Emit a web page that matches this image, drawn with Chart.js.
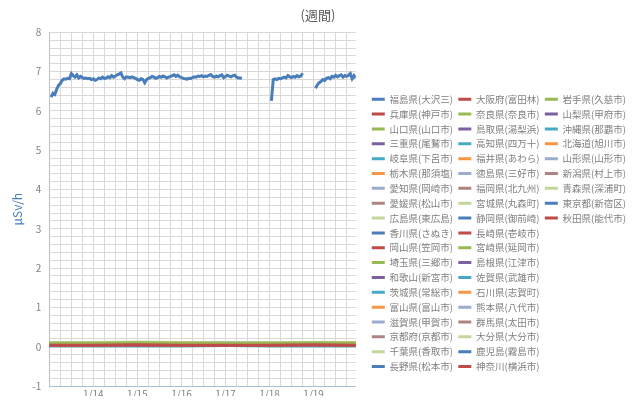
<!DOCTYPE html>
<html lang="ja">
<head>
<meta charset="utf-8">
<title>空間線量率 (週間)</title>
<script src="https://cdn.jsdelivr.net/npm/chart.js@4.4.1/dist/chart.umd.min.js"></script>
<style>
  body { margin: 0; background: #fff; }
</style>
</head>
<body>
<canvas id="myChart" width="640" height="400"></canvas>
<script>
// legend order: three columns, top to bottom
const stations = [
    '福島県(大沢三)', '兵庫県(神戸市)', '山口県(山口市)', '三重県(尾鷲市)', '岐阜県(下呂市)',
    '栃木県(那須塩)', '愛知県(岡崎市)', '愛媛県(松山市)', '広島県(東広島)', '香川県(さぬき)',
    '岡山県(笠岡市)', '埼玉県(三郷市)', '和歌山(新宮市)', '茨城県(常総市)', '富山県(富山市)',
    '滋賀県(甲賀市)', '京都府(京都市)', '千葉県(香取市)', '長野県(松本市)',
    '大阪府(富田林)', '奈良県(奈良市)', '鳥取県(湯梨浜)', '高知県(四万十)', '福井県(あわら)',
    '徳島県(三好市)', '福岡県(北九州)', '宮城県(丸森町)', '静岡県(御前崎)', '長崎県(壱岐市)',
    '宮崎県(延岡市)', '島根県(江津市)', '佐賀県(武雄市)', '石川県(志賀町)', '熊本県(八代市)',
    '群馬県(太田市)', '大分県(大分市)', '鹿児島(霧島市)', '神奈川(横浜市)',
    '岩手県(久慈市)', '山梨県(甲府市)', '沖縄県(那覇市)', '北海道(旭川市)', '山形県(山形市)',
    '新潟県(村上市)', '青森県(深浦町)', '東京都(新宿区)', '秋田県(能代市)'
];

const dayLabels = ['1/14', '1/15', '1/16', '1/17', '1/18', '1/19'];

// 福島県(大沢三), hourly from 1/13 0:00 to 1/19 23:00 (null = no data)
const fukushima = [
    null, 6.35, 6.45, 6.42, 6.55, 6.65, 6.70, 6.78, 6.82, 6.81, 6.83, 6.82, 6.95, 6.90, 6.86, 6.92, 6.84, 6.88, 6.85, 6.83, 6.84, 6.82, 6.83, 6.80,
    6.82, 6.78, 6.80, 6.84, 6.82, 6.86, 6.83, 6.84, 6.87, 6.85, 6.90, 6.86, 6.89, 6.92, 6.94, 6.97, 6.86, 6.82, 6.87, 6.86, 6.85, 6.87, 6.85, 6.83,
    6.80, 6.78, 6.82, 6.80, 6.72, 6.80, 6.83, 6.85, 6.88, 6.86, 6.83, 6.85, 6.88, 6.86, 6.89, 6.87, 6.84, 6.86, 6.88, 6.90, 6.92, 6.88, 6.91, 6.87,
    6.85, 6.83, 6.82, 6.81, 6.83, 6.82, 6.85, 6.87, 6.86, 6.89, 6.88, 6.90, 6.87, 6.89, 6.88, 6.91, 6.93, 6.88, 6.86, 6.89, 6.87, 6.90, 6.92, 6.85,
    6.88, 6.91, 6.89, 6.87, 6.90, 6.91, 6.86, 6.84, 6.84, 6.83, null, null, null, null, null, null, null, null, null, null, null, null, null, null,
    null, 6.26, 6.80, 6.82, 6.80, 6.83, 6.82, 6.84, 6.86, 6.84, 6.90, 6.87, 6.85, 6.88, 6.86, 6.90, 6.87, 6.89, 6.96, null, null, null, null, null,
    null, 6.58, 6.66, 6.72, 6.75, 6.80, 6.78, 6.83, 6.85, 6.82, 6.88, 6.86, 6.91, 6.87, 6.90, 6.92, 6.86, 6.90, 6.88, 6.91, 6.95, 6.82, 6.90, 6.84
];

// the other stations, read once a day (hour of the week)
const dailyHours = [0, 24, 48, 72, 96, 120, 144, 167];
const otherLevels = [
    [0.04, 0.04, 0.05, 0.04, 0.04, 0.04, 0.05, 0.04],
    [0.09, 0.09, 0.10, 0.09, 0.09, 0.09, 0.10, 0.09],
    [0.05, 0.05, 0.05, 0.06, 0.05, 0.05, 0.05, 0.05],
    [0.07, 0.07, 0.08, 0.07, 0.07, 0.08, 0.07, 0.07],
    [0.08, 0.08, 0.08, 0.09, 0.08, 0.08, 0.08, 0.09],
    [0.05, 0.05, 0.05, 0.05, 0.06, 0.05, 0.05, 0.05],
    [0.05, 0.05, 0.06, 0.05, 0.05, 0.05, 0.05, 0.06],
    [0.10, 0.10, 0.11, 0.10, 0.10, 0.10, 0.11, 0.10],
    [0.06, 0.06, 0.06, 0.07, 0.06, 0.06, 0.06, 0.06],
    [0.04, 0.04, 0.04, 0.04, 0.05, 0.04, 0.04, 0.04],
    [0.07, 0.07, 0.06, 0.07, 0.07, 0.07, 0.07, 0.07],
    [0.05, 0.05, 0.05, 0.05, 0.05, 0.06, 0.05, 0.05],
    [0.09, 0.09, 0.09, 0.09, 0.10, 0.09, 0.09, 0.09],
    [0.06, 0.06, 0.06, 0.06, 0.06, 0.07, 0.06, 0.06],
    [0.05, 0.05, 0.05, 0.06, 0.05, 0.05, 0.05, 0.05],
    [0.06, 0.06, 0.06, 0.06, 0.06, 0.06, 0.07, 0.06],
    [0.11, 0.11, 0.12, 0.11, 0.11, 0.11, 0.11, 0.11],
    [0.05, 0.05, 0.05, 0.05, 0.05, 0.05, 0.06, 0.05],
    [0.03, 0.03, 0.03, 0.04, 0.03, 0.03, 0.03, 0.03],
    [0.06, 0.06, 0.06, 0.06, 0.07, 0.06, 0.06, 0.06],
    [0.06, 0.06, 0.07, 0.06, 0.06, 0.06, 0.06, 0.06],
    [0.03, 0.03, 0.03, 0.03, 0.03, 0.04, 0.03, 0.03],
    [0.05, 0.05, 0.05, 0.05, 0.06, 0.05, 0.05, 0.05],
    [0.07, 0.07, 0.07, 0.08, 0.07, 0.07, 0.07, 0.07],
    [0.04, 0.04, 0.04, 0.04, 0.04, 0.05, 0.04, 0.04],
    [0.10, 0.10, 0.10, 0.11, 0.10, 0.10, 0.10, 0.10],
    [0.04, 0.04, 0.04, 0.04, 0.04, 0.04, 0.05, 0.04],
    [0.03, 0.03, 0.03, 0.03, 0.04, 0.03, 0.03, 0.03],
    [0.03, 0.03, 0.04, 0.03, 0.03, 0.03, 0.03, 0.03],
    [0.06, 0.06, 0.06, 0.06, 0.06, 0.07, 0.06, 0.06],
    [0.03, 0.03, 0.03, 0.03, 0.03, 0.03, 0.04, 0.03],
    [0.05, 0.05, 0.06, 0.05, 0.05, 0.05, 0.05, 0.05],
    [0.03, 0.03, 0.03, 0.04, 0.03, 0.03, 0.03, 0.03],
    [0.04, 0.04, 0.04, 0.04, 0.04, 0.04, 0.04, 0.05],
    [0.05, 0.05, 0.05, 0.05, 0.06, 0.05, 0.05, 0.05],
    [0.05, 0.05, 0.05, 0.05, 0.05, 0.06, 0.05, 0.05],
    [0.04, 0.04, 0.04, 0.05, 0.04, 0.04, 0.04, 0.04],
    [0.04, 0.04, 0.04, 0.04, 0.04, 0.05, 0.04, 0.04],
    [0.04, 0.04, 0.05, 0.04, 0.04, 0.04, 0.04, 0.04],
    [0.02, 0.02, 0.02, 0.02, 0.03, 0.02, 0.02, 0.02],
    [0.03, 0.03, 0.03, 0.03, 0.03, 0.03, 0.04, 0.03],
    [0.05, 0.05, 0.05, 0.06, 0.05, 0.05, 0.05, 0.05],
    [0.05, 0.05, 0.05, 0.05, 0.05, 0.06, 0.05, 0.05],
    [0.03, 0.03, 0.03, 0.03, 0.04, 0.03, 0.03, 0.03],
    [0.04, 0.04, 0.04, 0.04, 0.04, 0.04, 0.05, 0.04],
    [0.04, 0.04, 0.05, 0.04, 0.04, 0.04, 0.04, 0.04]
];

const lineColors = [
    '#4a7ebb', '#be4b48', '#98b954', '#7d60a0', '#46aac5',
    '#f79646', '#9aadcf', '#ad8483', '#c3d69b'
];

Chart.defaults.font.family = '"Noto Sans CJK JP", "Noto Sans", sans-serif';
Chart.defaults.color = '#808080';

const gridColor = '#d9d9d9';

const datasets = stations.map((name, i) => {
    const points = i === 0
        ? fukushima.map((v, h) => ({x: h, y: v}))
        : dailyHours.map((h, k) => ({x: h, y: otherLevels[i - 1][k]}));
    const color = lineColors[i % lineColors.length];
    return {
        label: name,
        data: points,
        borderColor: color,
        backgroundColor: color,
        borderWidth: 3,
        pointRadius: 0,
        spanGaps: false
    };
});

const config = {
    type: 'line',
    data: { datasets: datasets },
    options: {
        responsive: false,
        animation: false,
        layout: { padding: { right: 4 } },
        scales: {
            x: {
                type: 'linear',
                min: 0,
                max: 167,
                ticks: {
                    stepSize: 6,
                    autoSkip: false,
                    includeBounds: false,
                    maxRotation: 0,
                    padding: 2,
                    font: { size: 10 },
                    callback: (v) => (v > 0 && v % 24 === 0) ? dayLabels[v / 24 - 1] : ''
                },
                grid: { color: gridColor, drawTicks: false },
                border: { color: '#a9bfd8' },
                afterFit: (scale) => { scale.height = 10; }
            },
            y: {
                min: -1,
                max: 8,
                ticks: {
                    stepSize: 0.2,
                    autoSkip: false,
                    padding: 8,
                    font: { size: 10 },
                    callback: (v) => Number.isInteger(v) ? v : ''
                },
                grid: { color: gridColor, drawTicks: false },
                border: { color: '#bfbfbf' },
                title: {
                    display: true,
                    text: 'μSv/h',
                    color: '#4a7ebb',
                    font: { size: 12 },
                    padding: { top: 10, bottom: 0 }
                },
                afterFit: (scale) => { scale.width = 49.3; }
            },
            // empty axis: keeps a gap between the plot and the legend
            gap: {
                position: 'right',
                grid: { display: false },
                ticks: { display: false },
                border: { display: false },
                afterFit: (scale) => { scale.width = 10.6; }
            }
        },
        plugins: {
            title: {
                display: true,
                text: '(週間)',
                color: '#595959',
                font: { size: 13, weight: 'normal' },
                padding: { top: 7, bottom: 9.8 }
            },
            legend: {
                position: 'right',
                align: 'start',
                fullSize: false,
                maxWidth: 300,
                title: { display: true, text: '', font: { size: 10 }, padding: { top: 44.75, bottom: 0 } },
                labels: {
                    color: '#808080',
                    font: { size: 9.5 },
                    padding: 5.35,
                    usePointStyle: true,
                    pointStyle: 'line',
                    pointStyleWidth: 13
                }
            },
            tooltip: { enabled: false }
        }
    }
};

const myChart = new Chart(
    document.getElementById('myChart'),
    config
);
</script>
</body>
</html>
